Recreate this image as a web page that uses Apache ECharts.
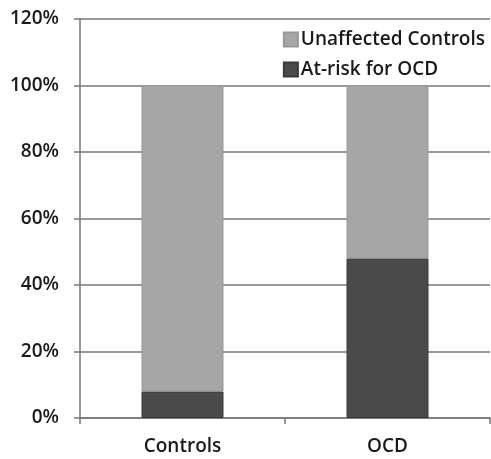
<!DOCTYPE html>
<html><head><meta charset="utf-8">
<script src="https://cdn.jsdelivr.net/npm/echarts@6/dist/echarts.min.js"></script>
<style>html,body{margin:0;padding:0;background:#fff}#c{width:491px;height:459px}</style>
</head><body><div id="c"></div>
<script>
const categories = ["Controls", "OCD"];
const atRisk = [8, 48];
const unaffected = [92, 52];
const yTicks = [0, 20, 40, 60, 80, 100, 120];

const chart = echarts.init(document.getElementById('c'));
const font = '"Open Sans", "DejaVu Sans", sans-serif';
chart.setOption({
  animation: false,
  textStyle: { fontFamily: font },
  grid: { left: 80, right: 1, top: 19, bottom: 41 },
  legend: {
    data: ["Unaffected Controls", "At-risk for OCD"],
    orient: 'vertical',
    right: 1, top: 24,
    itemWidth: 14, itemHeight: 14, itemGap: 9,
    icon: 'rect',
    textStyle: { fontSize: 19, lineHeight: 21, color: '#1a1a1a', fontWeight: 600, fontFamily: font, padding: [0,0,0,-2] }
  },
  xAxis: {
    type: 'category', data: categories,
    axisLine: { lineStyle: { color: '#777', width: 1.5 } },
    axisTick: { show: true, length: 6, lineStyle: { color: '#777', width: 1.5 } },
    axisLabel: { fontSize: 19, color: '#1a1a1a', fontWeight: 600, margin: 19 }
  },
  yAxis: {
    type: 'value', min: yTicks[0], max: yTicks[yTicks.length-1], interval: 20,
    axisLine: { show: true, lineStyle: { color: '#777', width: 1.5 } },
    axisTick: { show: true, length: 6, lineStyle: { color: '#777', width: 1.5 } },
    splitLine: { lineStyle: { color: '#777', width: 1.5 } },
    axisLabel: { fontSize: 19, color: '#1a1a1a', fontWeight: 600, margin: 21, formatter: v => v + '%' }
  },
  series: [
    { name: "At-risk for OCD", type: 'bar', stack: 's', data: atRisk, barWidth: '40%',
      itemStyle: { color: '#4a4a4a', borderColor: '#3a3a3a', borderWidth: 1 } },
    { name: "Unaffected Controls", type: 'bar', stack: 's', data: unaffected, barWidth: '40%',
      itemStyle: { color: '#a6a6a6', borderColor: '#999', borderWidth: 1 } }
  ]
});
</script></body></html>
